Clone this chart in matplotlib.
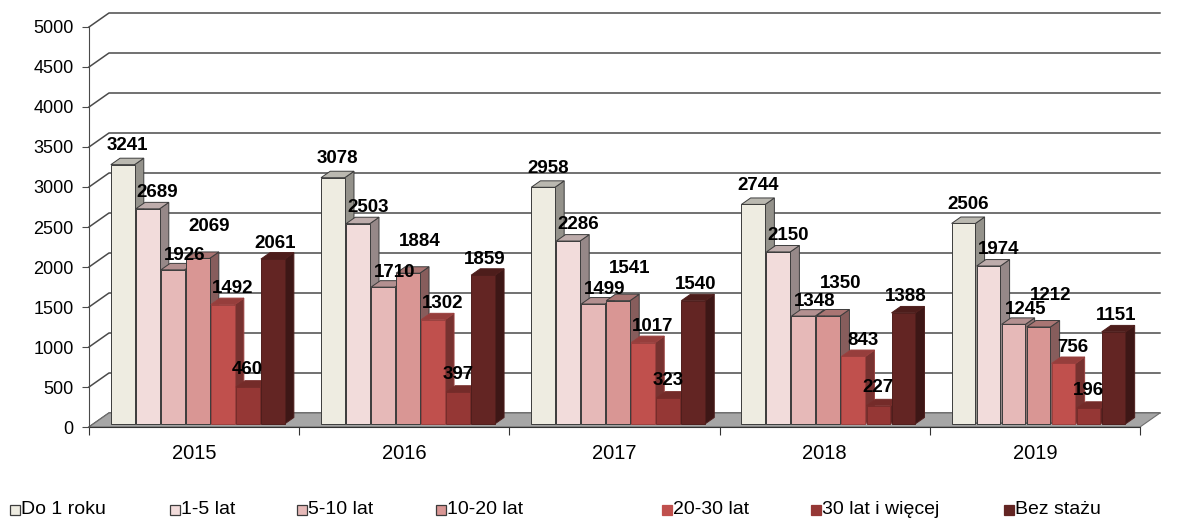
import matplotlib.pyplot as plt
from matplotlib.patches import Polygon, Rectangle
import matplotlib.colors as mcolors

plt.rcParams['font.family'] = ['Liberation Sans', 'DejaVu Sans']

years = ['2015', '2016', '2017', '2018', '2019']
series = ['Do 1 roku', '1-5 lat', '5-10 lat', '10-20 lat', '20-30 lat', '30 lat i więcej', 'Bez stażu']
do_1_roku = [3241, 3078, 2958, 2744, 2506]
lat_1_5 = [2689, 2503, 2286, 2150, 1974]
lat_5_10 = [1926, 1710, 1499, 1348, 1245]
lat_10_20 = [2069, 1884, 1541, 1350, 1212]
lat_20_30 = [1492, 1302, 1017, 843, 756]
lat_30_plus = [460, 397, 323, 227, 196]
bez_stazu = [2061, 1859, 1540, 1388, 1151]
data = [do_1_roku, lat_1_5, lat_5_10, lat_10_20, lat_20_30, lat_30_plus, bez_stazu]

colors = ['#EEECE1', '#F2DCDB', '#E6B9B8', '#D99694', '#C0504D', '#953735', '#632523']
edge_dark = [True, True, True, True, False, False, False]
# label offsets (points) per series, like excel puts them
lab_off = [(3.5, 13.5), (7, 12), (8.5, 10.5), (8.5, 23), (7, 11.5), (0, 13), (1.5, 11.5)]


def shade(c, k):
    r, g, b = mcolors.to_rgb(c)
    return (r * k, g * k, b * k)


fig = plt.figure(figsize=(11.79, 5.2), dpi=100)
ax = fig.add_axes([89 / 1179, 93 / 520, 1051 / 1179, 400 / 520])
ax.set_xlim(0, 5)
ax.set_ylim(0, 5000)

# depth of the fake 3d walls (data units)
DX, DY = 0.095, 175
f0, f1 = 0.22, 0.68
grid_c = '#4a4a4a'

for v in range(0, 5001, 500):
    ax.plot([0, DX, 5 + DX], [v, v + DY, v + DY], color=grid_c, lw=1.1,
            clip_on=False, zorder=1)

ax.add_patch(Polygon([(0, 0), (5, 0), (5 + DX, DY), (DX, DY)], closed=True,
                     fc='#A6A6A6', ec='#6e6e6e', lw=0.8, clip_on=False, zorder=2))

step = 0.119
w = 0.113
bx0, by0 = f0 * DX, f0 * DY
sx, sy = (f1 - f0) * DX, (f1 - f0) * DY

for i in range(len(years)):
    for j, vals in enumerate(data):
        v = vals[i]
        x0 = i + 0.083 + j * step + bx0
        x1 = x0 + w
        base = by0
        top = by0 + v
        c = colors[j]
        ec = '#3c3c3c' if edge_dark[j] else shade(c, 0.8)
        side = Polygon([(x1, base), (x1 + sx, base + sy), (x1 + sx, top + sy), (x1, top)],
                       closed=True, fc=shade(c, 0.62), ec=ec, lw=0.7, clip_on=False, zorder=3)
        topf = Polygon([(x0, top), (x1, top), (x1 + sx, top + sy), (x0 + sx, top + sy)],
                       closed=True, fc=shade(c, 0.78), ec=ec, lw=0.7, clip_on=False, zorder=3)
        front = Rectangle((x0, base), w, v, fc=c, ec=ec, lw=0.7, clip_on=False, zorder=3)
        ax.add_patch(side)
        ax.add_patch(topf)
        ax.add_patch(front)
        ax.annotate(str(v), xy=(x0 + w / 2, top), xytext=lab_off[j], textcoords='offset points',
                    ha='center', va='center', fontsize=13.5, fontweight='bold',
                    color='black', zorder=5, annotation_clip=False)

for s in ['top', 'right']:
    ax.spines[s].set_visible(False)
ax.spines['left'].set_color(grid_c)
ax.spines['bottom'].set_color('#333333')
ax.spines['left'].set_zorder(4)
ax.set_facecolor('none')

ax.set_yticks(range(0, 5001, 500))
ax.tick_params(axis='y', direction='out', length=5, labelsize=13, color=grid_c, pad=6)
ax.set_xticks(range(6))
ax.set_xticklabels([''] * 6)
ax.set_xticks([i + 0.5 for i in range(5)], minor=True)
ax.set_xticklabels(years, minor=True, fontsize=14.5)
ax.tick_params(axis='x', which='major', direction='out', length=6, color='#333333')
ax.tick_params(axis='x', which='minor', length=0, pad=12)

# legend
leg_x = [10, 170, 297, 436, 662, 811, 1004]
for j, name in enumerate(series):
    x = leg_x[j]
    fig.add_artist(Rectangle((x / 1179, (520 - 515) / 520), 10 / 1179, 10 / 520,
                             transform=fig.transFigure, fc=colors[j],
                             ec='#3c3c3c' if edge_dark[j] else colors[j], lw=0.9))
    fig.text((x + 11) / 1179, (520 - 510) / 520, name, fontsize=14, va='center', ha='left')

fig.savefig('out.png', dpi=100)
